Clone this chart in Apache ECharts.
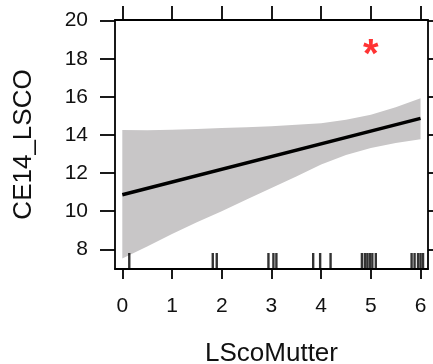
<!DOCTYPE html>
<html><head><meta charset="utf-8">
<script src="https://cdn.jsdelivr.net/npm/echarts@6/dist/echarts.min.js"></script>
<style>html,body{margin:0;padding:0;background:#fff}#c{width:433px;height:364px}</style>
</head><body><div id="c"></div>
<script>
const xTicks = [0, 1, 2, 3, 4, 5, 6];
const yTicks = [8, 10, 12, 14, 16, 18, 20];
const fitX = [0, 6];
const fitY = [10.86, 14.87];
const bandX = [0, 0.5, 1, 1.5, 2, 2.5, 3, 3.5, 4, 4.5, 5, 5.5, 6];
const bandLower = [7.52, 8.15, 8.80, 9.42, 10.00, 10.62, 11.22, 11.82, 12.45, 12.95, 13.32, 13.58, 13.78];
const bandUpper = [14.26, 14.25, 14.28, 14.31, 14.36, 14.40, 14.46, 14.53, 14.62, 14.80, 15.06, 15.45, 15.93];
const rugX = [0.14, 1.82, 1.9, 2.94, 3.04, 3.1, 3.84, 3.98, 4.19, 4.82, 4.88, 4.93, 4.98, 5.03, 5.1, 5.82, 5.88, 5.95, 6.0, 6.05];
const starPoint = [5, 18.7];
const xLabel = 'LScoMutter';
const yLabel = 'CE14_LSCO';

const X_MIN = -0.147, X_MAX = 6.15, Y_MIN = 6.97, Y_MAX = 20.03;
const FONT = 'Liberation Sans, Arial, sans-serif';
const axisLineStyle = { color: '#000', width: 1.8 };

const chart = echarts.init(document.getElementById('c'), null, { renderer: 'canvas' });
chart.setOption({
  animation: false,
  backgroundColor: '#fff',
  grid: { left: 115, right: 5, top: 20, bottom: 95, containLabel: false, outerBoundsMode: 'none' },
  xAxis: [
    {
      type: 'value', position: 'bottom', min: X_MIN, max: X_MAX,
      axisLine: { show: true, onZero: false, lineStyle: axisLineStyle },
      axisTick: { show: true, customValues: xTicks, length: 10, lineStyle: axisLineStyle },
      axisLabel: { show: true, customValues: xTicks, margin: 27, fontSize: 21, color: '#111', fontFamily: FONT },
      splitLine: { show: false },
      name: xLabel, nameLocation: 'middle', nameGap: 72,
      nameTextStyle: { fontSize: 26, color: '#111', fontFamily: FONT }
    },
    {
      type: 'value', position: 'top', min: X_MIN, max: X_MAX,
      axisLine: { show: true, onZero: false, lineStyle: axisLineStyle },
      axisTick: { show: true, customValues: xTicks, length: 14, lineStyle: axisLineStyle },
      axisLabel: { show: false },
      splitLine: { show: false }
    }
  ],
  yAxis: [
    {
      type: 'value', position: 'left', min: Y_MIN, max: Y_MAX,
      axisLine: { show: true, onZero: false, lineStyle: axisLineStyle },
      axisTick: { show: true, customValues: yTicks, length: 15, lineStyle: axisLineStyle },
      axisLabel: { show: true, customValues: yTicks, margin: 27, fontSize: 21, color: '#111', fontFamily: FONT },
      splitLine: { show: false },
      name: yLabel, nameLocation: 'middle', nameGap: 78, nameRotate: 90,
      nameTextStyle: { fontSize: 26, color: '#111', fontFamily: FONT }
    },
    {
      type: 'value', position: 'right', min: Y_MIN, max: Y_MAX,
      axisLine: { show: true, onZero: false, lineStyle: axisLineStyle },
      axisTick: { show: true, customValues: yTicks, length: 10, lineStyle: axisLineStyle },
      axisLabel: { show: false },
      splitLine: { show: false }
    }
  ],
  series: [
    {
      name: 'band', type: 'custom', xAxisIndex: 0, yAxisIndex: 0,
      data: bandX.map((x, i) => [x, bandLower[i], bandUpper[i]]),
      encode: { x: 0, y: [1, 2] },
      renderItem: function (params, api) {
        if (params.dataIndex !== 0) return null;
        const pts = [];
        for (let i = 0; i < bandX.length; i++) pts.push(api.coord([bandX[i], bandUpper[i]]));
        for (let i = bandX.length - 1; i >= 0; i--) pts.push(api.coord([bandX[i], bandLower[i]]));
        return {
          type: 'polygon',
          shape: { points: pts, smooth: 0 },
          style: { fill: '#c8c6c7', stroke: null }
        };
      },
      silent: true, z: 1
    },
    {
      name: 'fit', type: 'line', xAxisIndex: 0, yAxisIndex: 0,
      data: fitX.map((x, i) => [x, fitY[i]]),
      symbol: 'none', lineStyle: { color: '#000', width: 3.6 }, z: 5
    },
    {
      name: 'rug', type: 'scatter', xAxisIndex: 0, yAxisIndex: 0,
      data: rugX.map(x => [x, Y_MIN]),
      symbol: 'rect', symbolSize: [2.4, 16], symbolOffset: [0, -8],
      itemStyle: { color: '#000' }, clip: false, z: 6
    },
    {
      name: 'star', type: 'scatter', xAxisIndex: 0, yAxisIndex: 0,
      data: [starPoint], symbolSize: 1, itemStyle: { color: 'rgba(0,0,0,0)' },
      label: {
        show: true, formatter: '*', position: 'inside', offset: [0, 11],
        color: '#ff0000', fontSize: 40, fontWeight: 'bold', fontFamily: FONT
      }, z: 7
    }
  ]
});
</script>
</body></html>
